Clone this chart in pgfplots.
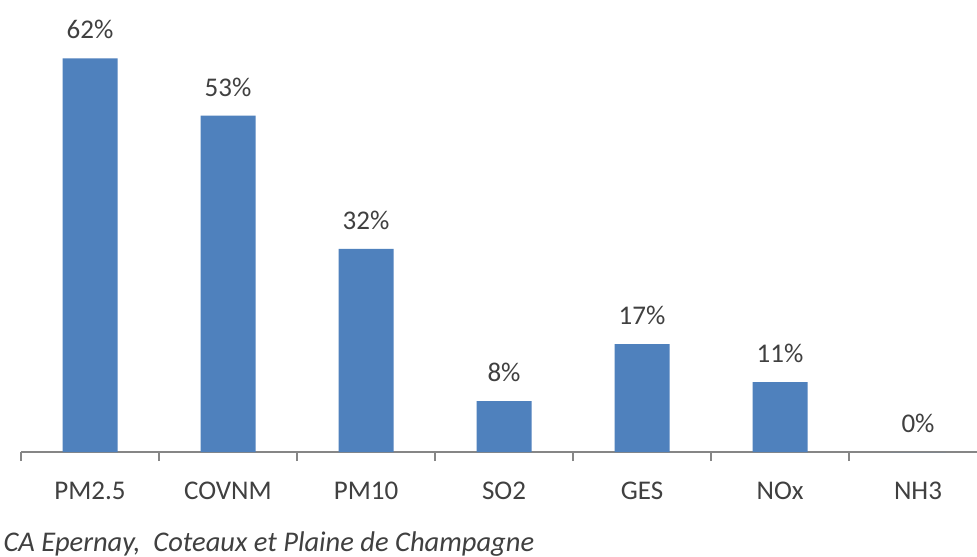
\documentclass[border=0pt]{standalone}
\usepackage{pgfplots}
\pgfplotsset{compat=1.18}
\usepackage{fontspec}
\setmainfont{Carlito}
\definecolor{barblue}{HTML}{4F81BD}
\definecolor{txtgray}{HTML}{404040}
\definecolor{axgray}{HTML}{868686}
\begin{document}
\begin{tikzpicture}
\clip (0,0) rectangle (390.8pt,222.4pt);
\fill[white] (0,0) rectangle (390.8pt,222.4pt);
\begin{axis}[
  at={(8.4pt,41.6pt)}, anchor=south west,
  scale only axis,
  width=382.4pt, height=180.8pt,
  xmin=-0.5, xmax=6.4275,
  ymin=0, ymax=71.2,
  axis x line=bottom,
  axis y line=none,
  x axis line style={-, draw=axgray, line width=0.6pt},
  xtick={0,1,2,3,4,5,6},
  xticklabels={PM2.5, COVNM, PM10, SO2, GES, NOx, NH3},
  major tick length=0pt,
  minor xtick={-0.5,0.5,1.5,2.5,3.5,4.5,5.5,6.5},
  minor tick length=3.6pt,
  tick align=outside,
  every minor tick/.style={draw=axgray, line width=0.6pt},
  xticklabel style={anchor=base, yshift=-18.8pt, font=\fontsize{10.8}{13}\selectfont, text=txtgray},
  ybar,
  bar width=22pt,
  clip=false,
  nodes near coords={\pgfmathprintnumber[assume math mode=true]{\pgfplotspointmeta}\%},
  every node near coord/.append style={anchor=base, yshift=7.8pt, inner sep=0pt, font=\fontsize{10.8}{13}\selectfont, text=txtgray},
]
\addplot[fill=barblue, draw=none] coordinates {
  (0,62) (1,53) (2,32) (3,8) (4,17) (5,11) (6,0)
};
\end{axis}
\node[anchor=base west, inner sep=0pt, text=txtgray, font=\fontsize{11.4}{13}\selectfont\itshape] at (1.2pt,1.8pt) {CA Epernay,\ \ Coteaux et Plaine de Champagne};
\end{tikzpicture}
\end{document}
